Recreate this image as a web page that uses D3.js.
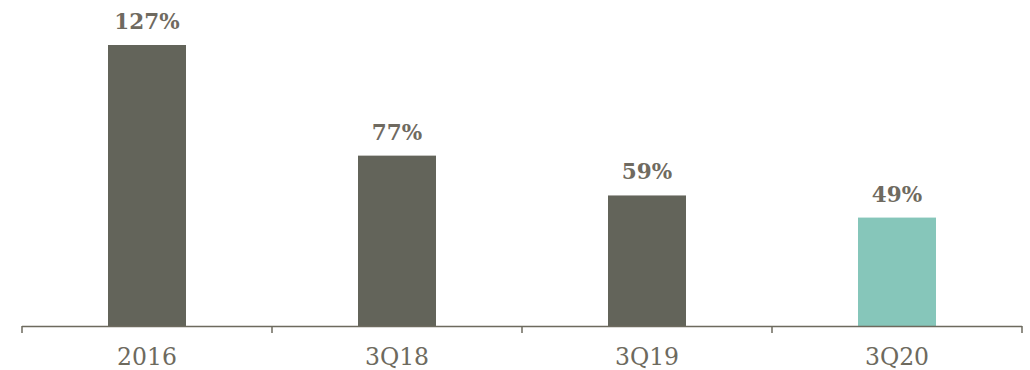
<!DOCTYPE html>
<html>
<head>
<meta charset="utf-8">
<script src="https://cdn.jsdelivr.net/npm/d3@7"></script>
<style>
  html, body { margin: 0; padding: 0; background: #fff; }
  svg { display: block; }
</style>
</head>
<body>
<div id="chart"></div>
<script>
// Chart data
const categories = ["2016", "3Q18", "3Q19", "3Q20"];
const values = [127, 77, 59, 49];
const valueLabels = ["127%", "77%", "59%", "49%"];
const highlight = [false, false, false, true];

const width = 1030, height = 370;
const margin = { left: 22, right: 8, top: 45, bottom: 44 };
const baseY = height - margin.bottom;

const svg = d3.select("#chart").append("svg")
  .attr("width", width).attr("height", height);

const x = d3.scaleBand()
  .domain(categories)
  .range([margin.left, width - margin.right])
  .paddingInner(0.688)
  .paddingOuter(0.344);

const y = d3.scaleLinear()
  .domain([0, 127])
  .range([baseY, margin.top]);

// Bars
svg.selectAll("rect.bar")
  .data(categories)
  .join("rect")
  .attr("class", "bar")
  .attr("x", d => x(d))
  .attr("width", x.bandwidth())
  .attr("y", (d, i) => y(values[i]))
  .attr("height", (d, i) => baseY - y(values[i]))
  .attr("fill", (d, i) => highlight[i] ? "#86c6ba" : "#63645a");

// Value labels
svg.selectAll("text.val")
  .data(categories)
  .join("text")
  .attr("class", "val")
  .attr("x", d => x(d) + x.bandwidth() / 2)
  .attr("y", (d, i) => y(values[i]) - 16)
  .attr("text-anchor", "middle")
  .attr("font-family", "DejaVu Serif, serif")
  .attr("font-weight", "bold")
  .attr("font-size", 21.5)
  .attr("fill", "#6f6a60")
  .text((d, i) => valueLabels[i]);

// Axis baseline with boundary ticks between categories
const x0 = margin.left, x1 = width - margin.right;
const axis = svg.append("g").attr("stroke", "#6d6a5e").attr("stroke-width", 1.5).attr("fill", "none");
axis.append("line")
  .attr("x1", x0).attr("x2", x1)
  .attr("y1", baseY + 0.5).attr("y2", baseY + 0.5);
const tickXs = d3.range(categories.length + 1).map(i => x0 + i * (x1 - x0) / categories.length);
axis.selectAll("line.tick")
  .data(tickXs)
  .join("line")
  .attr("class", "tick")
  .attr("x1", d => d).attr("x2", d => d)
  .attr("y1", baseY).attr("y2", baseY + 7);

// Category labels
svg.selectAll("text.cat")
  .data(categories)
  .join("text")
  .attr("class", "cat")
  .attr("x", d => x(d) + x.bandwidth() / 2)
  .attr("y", height - 5)
  .attr("text-anchor", "middle")
  .attr("font-family", "DejaVu Serif, serif")
  .attr("font-size", 23.5)
  .attr("fill", "#6d6a5e")
  .text(d => d);
</script>
</body>
</html>
